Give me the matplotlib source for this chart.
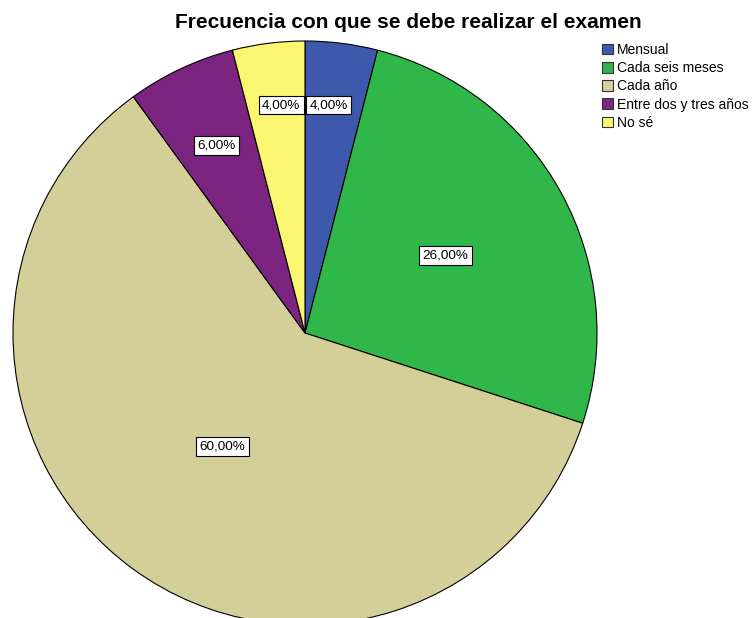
import numpy as np
import matplotlib.pyplot as plt
from matplotlib.patches import Patch

plt.rcParams['font.family'] = ['Liberation Sans', 'DejaVu Sans']

# Data
categories = ["Mensual", "Cada seis meses", "Cada año", "Entre dos y tres años", "No sé"]
values = [4.0, 26.0, 60.0, 6.0, 4.0]
colors = ["#3E58AC", "#2FB74A", "#D4CE98", "#7B2580", "#FAF672"]
labels = ["4,00%", "26,00%", "60,00%", "6,00%", "4,00%"]

# label placement per slice: radius (fraction of pie radius) and angle nudge (deg)
label_r = [0.785, 0.55, 0.48, 0.71, 0.785]
label_nudge = [1.25, 0, 0, 0, -1.25]

W, H = 754, 618
fig = plt.figure(figsize=(W / 100, H / 100), dpi=100)

# pie centre and radius in pixels
cx, cy, R = 305, 333, 292
ax = fig.add_axes([0, 0, 1, 1])

wedges, _ = ax.pie(values, colors=colors, startangle=90, counterclock=False,
                   radius=1, wedgeprops=dict(edgecolor="black", linewidth=0.8))

ax.set_xlim(-cx / R, (W - cx) / R)
ax.set_ylim(-(H - cy) / R, cy / R)
ax.set_aspect("equal")
ax.axis("off")

for w, lab, r, nd in zip(wedges, labels, label_r, label_nudge):
    mid = np.deg2rad((w.theta1 + w.theta2) / 2 + nd)
    ax.text(r * np.cos(mid), r * np.sin(mid), lab, ha="center", va="center",
            fontsize=9.7,
            bbox=dict(boxstyle="square,pad=0.25", facecolor="white",
                      edgecolor="black", linewidth=0.8))

fig.text(408 / W, 1 - 22 / H, "Frecuencia con que se debe realizar el examen",
         ha="center", va="center", fontsize=15, fontweight="bold")

handles = [Patch(facecolor=c, edgecolor="#333333", linewidth=0.8) for c in colors]
fig.legend(handles, categories, loc="upper left", bbox_to_anchor=(602 / W, 1 - 43 / H),
           frameon=False, fontsize=10, handlelength=0.8, handleheight=0.8,
           handletextpad=0.25, labelspacing=0.3, borderpad=0, borderaxespad=0)

fig.savefig("out.png", dpi=100)
